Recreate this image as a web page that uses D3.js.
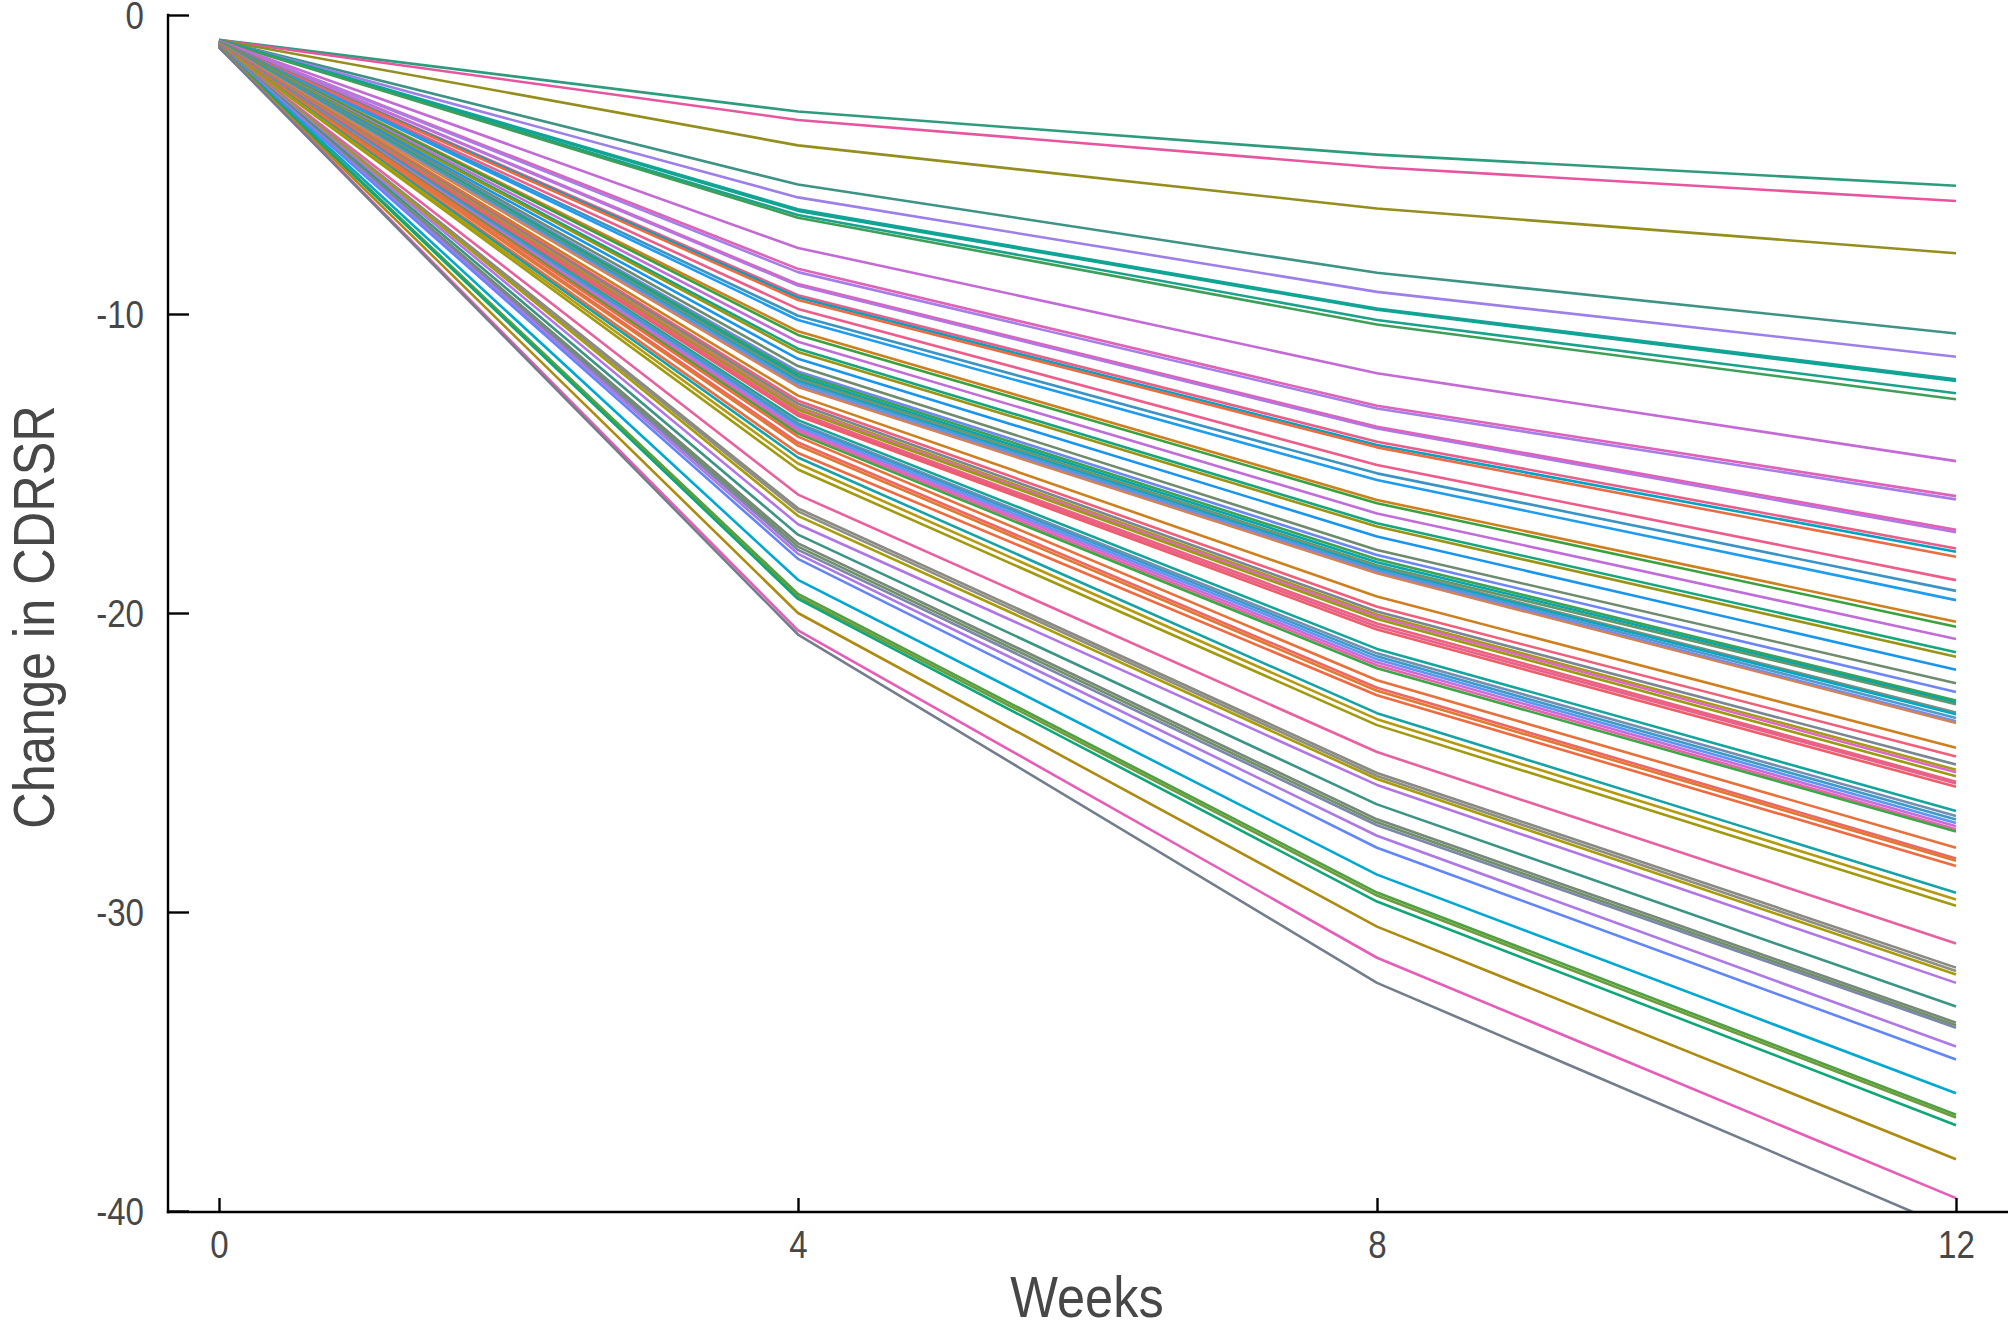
<!DOCTYPE html>
<html><head><meta charset="utf-8">
<script src="https://cdn.jsdelivr.net/npm/d3@7"></script>
<style>html,body{margin:0;padding:0;background:#fff;} svg{display:block;}</style>
</head><body><svg id="chart" width="2010" height="1330"></svg>
<script>
// ---- data ----
const weeks = [0, 4, 8, 12];
const xTicks = [0, 4, 8, 12];
const yTicks = [0, -10, -20, -30, -40];
const xTitle = "Weeks";
const yTitle = "Change in CDRSR";

const week0 = [-0.83,-0.84,-0.84,-0.85,-0.85,-0.84,-0.85,-0.86,-0.86,-0.87,
  -0.87,-0.88,-0.88,-0.88,-0.89,-0.89,-0.90,-0.90,-0.90,-0.91,
  -0.91,-0.91,-0.92,-0.92,-0.92,-0.93,-0.93,-0.93,-0.94,-0.94,
  -0.94,-0.94,-0.95,-0.95,-0.95,-0.95,-0.96,-0.96,-0.96,-0.96,
  -0.97,-0.97,-0.97,-0.97,-0.98,-0.98,-0.98,-0.98,-0.99,-0.99,
  -0.99,-0.99,-1.00,-1.00,-1.00,-1.00,-1.01,-1.01,-1.01,-1.02,
  -1.02,-1.02,-1.03,-1.03,-1.03,-1.04,-1.04,-1.04,-1.05,-1.06,
  -1.05,-1.06,-1.06,-1.06,-1.07,-1.07,-1.08];

const week4 = [-3.23,-3.51,-4.36,-5.67,-6.10,-6.50,-6.55,-6.69,-6.78,-7.79,
  -8.49,-8.60,-9.00,-9.05,-9.37,-9.45,-9.53,-9.83,-10.06,-10.20,
  -10.58,-10.70,-10.93,-11.16,-11.27,-11.50,-11.74,-11.92,-12.00,-12.08,
  -12.15,-12.20,-12.25,-12.30,-12.38,-12.44,-12.73,-12.90,-13.00,-13.10,
  -13.15,-13.20,-13.30,-13.35,-13.40,-13.55,-13.65,-13.70,-13.78,-13.85,
  -13.92,-14.00,-14.10,-14.30,-14.40,-14.65,-14.80,-15.00,-15.20,-16.04,
  -16.50,-16.60,-16.75,-17.03,-17.38,-17.67,-17.78,-17.89,-18.02,-18.19,
  -18.89,-19.36,-19.45,-19.53,-20.00,-20.58,-20.72];

const week8 = [-4.67,-5.09,-6.47,-8.62,-9.26,-9.82,-9.86,-10.20,-10.35,-11.98,
  -13.07,-13.16,-13.77,-13.83,-14.27,-14.38,-14.46,-15.05,-15.33,-15.55,
  -16.22,-16.33,-16.67,-17.00,-17.11,-17.44,-17.89,-18.06,-18.20,-18.30,
  -18.40,-18.45,-18.50,-18.55,-18.62,-18.67,-19.45,-19.79,-19.95,-20.05,
  -20.12,-20.20,-20.35,-20.45,-20.55,-21.20,-21.35,-21.45,-21.55,-21.65,
  -21.75,-21.85,-22.25,-22.50,-22.60,-22.75,-23.35,-23.55,-23.75,-24.65,
  -25.35,-25.45,-25.55,-25.75,-26.40,-26.90,-27.00,-27.10,-27.45,-27.85,
  -28.75,-29.35,-29.45,-29.65,-30.49,-31.53,-32.37];

const week12 = [-5.71,-6.22,-7.97,-10.65,-11.43,-12.18,-12.24,-12.65,-12.85,-14.92,
  -16.09,-16.20,-17.22,-17.30,-17.84,-17.95,-18.12,-18.90,-19.26,-19.57,
  -20.29,-20.46,-20.87,-21.31,-21.46,-21.90,-22.35,-22.64,-22.93,-22.99,
  -23.05,-23.33,-23.39,-23.51,-23.62,-23.68,-24.51,-24.80,-25.07,-25.24,
  -25.33,-25.46,-25.64,-25.70,-25.81,-26.62,-26.79,-26.91,-27.02,-27.13,
  -27.23,-27.31,-27.85,-28.21,-28.29,-28.46,-29.36,-29.58,-29.79,-31.05,
  -31.86,-31.97,-32.09,-32.37,-33.16,-33.70,-33.79,-33.87,-34.50,-34.93,
  -36.06,-36.78,-36.87,-37.13,-38.27,-39.57,-40.65];

const palette = ["#2F9B7D","#E8559F","#948E1E","#3D9384","#9C7FE8","#12A49A","#10A592","#1BA28A","#3E9F58","#C36AD6",
  "#E062B8","#A67EE6","#E35FB4","#B575E0","#EC5C86","#00A3C4","#E86D43","#EF5C8A","#3B94C4","#1E9CF0",
  "#D07F1E","#3AA13D","#C06DDA","#16A67F","#9A9414","#1896EE","#6E8B6E","#6C86F5","#3DA253","#00A6B0",
  "#5C9A6B","#7F8E7F","#00A8C0","#4F9BCF","#6F8CF0","#D0845A","#D07F1E","#F25D77","#7A8596","#A89A12",
  "#DC67C8","#9C9A10","#F0607A","#E8608E","#EE5E68","#14A69C","#748DB0","#3C9BC6","#5E95F5","#C46EDD",
  "#E763AE","#3FA646","#E8703A","#F06462","#E07A30","#EE6A40","#16A3A8","#B59A10","#A09A0E","#E8609F",
  "#8A8A84","#8F8E82","#A89C0A","#B076E6","#3B9584","#76887A","#6F9064","#7B86A8","#AE78E6","#6186F6",
  "#00A8D2","#4FA040","#6C9C3A","#0FA67A","#AE8A10","#E65CB8","#737D8C"];

// ---- chart ----
const svg = d3.select("#chart");
const FONT = "'Liberation Sans', Arial, Helvetica, sans-serif";
const TXT = "#474747";
const NARROW = 0.87;

const x = d3.scaleLinear().domain([0, 12]).range([219, 1956]);
const y = d3.scaleLinear().domain([0, -40]).range([15, 1211]);

const panel = {left: 168, right: 2008, top: 15, bottom: 1212};

svg.append("defs").append("clipPath").attr("id", "clip")
  .append("rect").attr("x", panel.left).attr("y", panel.top)
  .attr("width", panel.right - panel.left).attr("height", panel.bottom - panel.top);

const series = week0.map((v, i) => [week0[i], week4[i], week8[i], week12[i]]);
const line = d3.line().x((d, i) => x(weeks[i])).y(d => y(d));

svg.append("g").attr("clip-path", "url(#clip)")
  .selectAll("path").data(series).join("path")
  .attr("d", line)
  .attr("fill", "none")
  .attr("stroke", (d, i) => palette[i % palette.length])
  .attr("stroke-width", 2.6)
  .attr("stroke-linejoin", "round");

// y axis
const gy = svg.append("g").attr("transform", `translate(${panel.left},0)`)
  .call(d3.axisLeft(y).tickValues(yTicks).tickSize(-21).tickSizeOuter(0).tickFormat(d => String(d)));
gy.select(".domain").remove();
gy.selectAll(".tick line").attr("stroke", "#000").attr("stroke-width", 2.4);
gy.selectAll(".tick text")
  .attr("x", 0).attr("dy", null).attr("y", 13.6)
  .attr("transform", `translate(-24,0) scale(${NARROW},1)`)
  .attr("text-anchor", "end")
  .style("font-family", FONT).style("font-size", "38px").attr("fill", TXT);

// x axis
const gx = svg.append("g").attr("transform", `translate(0,${panel.bottom})`)
  .call(d3.axisBottom(x).tickValues(xTicks).tickSize(-14).tickSizeOuter(0).tickFormat(d => String(d)));
gx.select(".domain").remove();
gx.selectAll(".tick line").attr("stroke", "#000").attr("stroke-width", 2.4);
gx.selectAll(".tick text")
  .attr("y", 0).attr("dy", null)
  .attr("transform", `translate(0,45.6) scale(${NARROW},1)`)
  .attr("text-anchor", "middle")
  .style("font-family", FONT).style("font-size", "38px").attr("fill", TXT);

// axis lines
svg.append("line").attr("x1", panel.left).attr("x2", panel.left)
  .attr("y1", panel.top - 1.2).attr("y2", panel.bottom + 1.2)
  .attr("stroke", "#000").attr("stroke-width", 2.4);
svg.append("line").attr("x1", panel.left - 1.2).attr("x2", panel.right)
  .attr("y1", panel.bottom).attr("y2", panel.bottom)
  .attr("stroke", "#000").attr("stroke-width", 2.4);

// titles
svg.append("text")
  .attr("transform", `translate(1087,1317) scale(${NARROW},1)`)
  .attr("text-anchor", "middle")
  .style("font-family", FONT).style("font-size", "58px").attr("fill", TXT)
  .text(xTitle);
svg.append("text")
  .attr("transform", `translate(54,617) rotate(-90) scale(${NARROW},1)`)
  .attr("text-anchor", "middle")
  .style("font-family", FONT).style("font-size", "58px").attr("fill", TXT)
  .text(yTitle);
</script>
</body></html>
